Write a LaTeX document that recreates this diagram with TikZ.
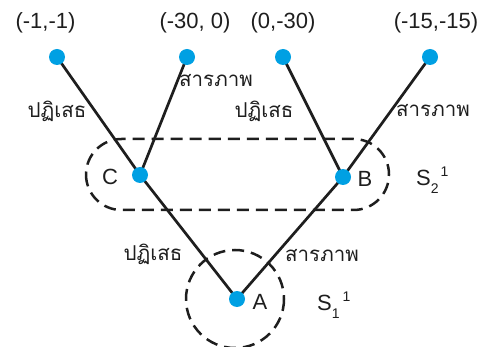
\documentclass[tikz,border=0pt]{standalone}
\usepackage{fontspec}
\setmainfont{Liberation Sans}
\newfontfamily\thaifont[Script=Thai]{Loma}
\definecolor{dotblue}{RGB}{0,160,227}
\definecolor{ink}{RGB}{30,30,30}
\tikzset{
  dot/.style={circle,fill=dotblue,minimum size=16pt,inner sep=0pt},
  edge/.style={draw=ink,line width=2.7pt},
  group/.style={draw=ink,line width=2.5pt,dash pattern=on 12pt off 7pt},
  pay/.style={font=\fontsize{22}{24}\selectfont,text=ink,inner sep=0pt},
  act/.style={font=\thaifont\fontsize{20.5}{22}\selectfont,text=ink,inner sep=0pt},
  lbl/.style={font=\fontsize{22}{24}\selectfont,text=ink,inner sep=0pt}
}
\begin{document}
\begin{tikzpicture}[x=1pt,y=-1pt]
\useasboundingbox (0,0) rectangle (492,347);
% information sets
\draw[group,rounded corners=35.5pt] (86,139) rectangle (389,210);
\draw[group] (235,299) circle (49);
% coordinates of nodes
\coordinate (l1) at (57,57);
\coordinate (l2) at (187,57);
\coordinate (l3) at (283,57);
\coordinate (l4) at (430,57);
\coordinate (c) at (140,175);
\coordinate (b) at (343,177);
\coordinate (a) at (237,299);
% edges
\draw[edge] (l1) -- (c);
\draw[edge] (l2) -- (c);
\draw[edge] (l3) -- (b);
\draw[edge] (l4) -- (b);
\draw[edge] (c) -- (a);
\draw[edge] (b) -- (a);
% dots
\node[dot] (n1) at (l1) {};
\node[dot] (n2) at (l2) {};
\node[dot] (n3) at (l3) {};
\node[dot] (n4) at (l4) {};
\node[dot] (nc) at (c) {};
\node[dot] (nb) at (b) {};
\node[dot] (na) at (a) {};
% payoffs
\node[pay] (p1) at (45.5,23) {(-1,-1)};
\node[pay] (p2) at (195,23) {(-30, 0)};
\node[pay] (p3) at (283,23) {(0,-30)};
\node[pay] (p4) at (436,23) {(-15,-15)};
% actions
\node[act] (t1) at (57,111) {ปฏิเสธ};
\node[act] (t2) at (216,81) {สารภาพ};
\node[act] (t3) at (264,111) {ปฏิเสธ};
\node[act] (t4) at (433,111) {สารภาพ};
\node[act] (t5) at (153,254) {ปฏิเสธ};
\node[act] (t6) at (322,256) {สารภาพ};
% node labels
\node[lbl] (lc) at (110,177) {C};
\node[lbl] (lb) at (365,179) {B};
\node[lbl] (la) at (260,302) {A};
% information set labels
\node[lbl,anchor=west] (s2) at (416,180) {S\raisebox{-8pt}{\fontsize{14}{14}\selectfont 2}\hspace{2pt}\raisebox{9pt}{\fontsize{14}{14}\selectfont 1}};
\node[lbl,anchor=west] (s1) at (317,305) {S\raisebox{-8pt}{\fontsize{14}{14}\selectfont 1}\hspace{3pt}\raisebox{9pt}{\fontsize{14}{14}\selectfont 1}};
\end{tikzpicture}
\end{document}
